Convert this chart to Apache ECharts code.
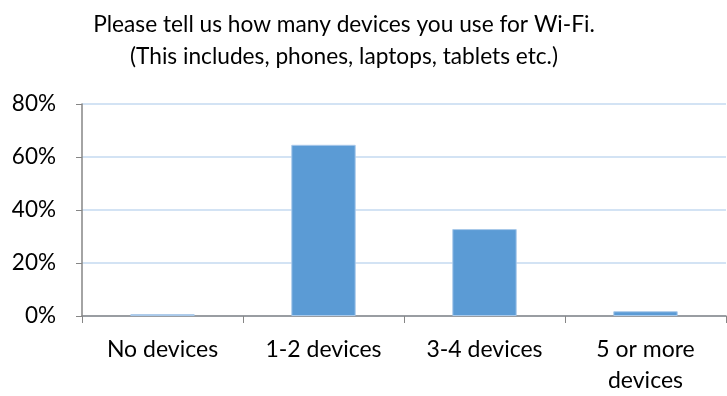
<!DOCTYPE html>
<html>
<head>
<meta charset="utf-8">
<script src="https://cdn.jsdelivr.net/npm/echarts@6/dist/echarts.min.js"></script>
<style>
  html, body { margin: 0; padding: 0; background: #fff; }
  #chart { width: 727px; height: 396px; }
</style>
</head>
<body>
<div id="chart"></div>
<script>
var categories = ['No devices', '1-2 devices', '3-4 devices', '5 or more\ndevices'];
var shares = [0.7, 64.6, 32.8, 1.8];
var yTicks = [0, 20, 40, 60, 80];

var chartDom = document.getElementById('chart');
var myChart = echarts.init(chartDom);
var option;

option = {
  animation: false,
  textStyle: { fontFamily: 'Lato' },
  title: {
    text: 'Please tell us how many devices you use for Wi-Fi.\n(This includes, phones, laptops, tablets etc.)',
    left: 339,
    top: 4,
    textAlign: 'center',
    textStyle: {
      fontFamily: 'Lato',
      fontSize: 22.7,
      fontWeight: 'normal',
      color: '#000',
      lineHeight: 32
    }
  },
  grid: {
    left: 82,
    right: 1,
    top: 104,
    bottom: 78
  },
  xAxis: {
    type: 'category',
    data: categories,
    axisLine: { lineStyle: { color: '#868686', width: 1.5 } },
    axisTick: { show: true, length: 7, lineStyle: { color: '#868686' } },
    axisLabel: {
      color: '#000',
      fontSize: 23,
      lineHeight: 31,
      margin: 18,
      interval: 0
    }
  },
  yAxis: {
    type: 'value',
    min: yTicks[0],
    max: yTicks[yTicks.length - 1],
    interval: 20,
    axisLine: { show: true, lineStyle: { color: '#868686', width: 1.5 } },
    axisTick: { show: true, length: 6, lineStyle: { color: '#868686' } },
    axisLabel: {
      color: '#000',
      fontSize: 22.5,
      margin: 26,
      formatter: '{value}%'
    },
    splitLine: { lineStyle: { color: '#C5DAF1', width: 1.5 } }
  },
  series: [
    {
      type: 'bar',
      data: shares,
      barWidth: '40%',
      itemStyle: {
        color: '#5B9BD5',
        borderColor: '#A9C9EA',
        borderWidth: 1
      }
    }
  ]
};

option && myChart.setOption(option);
</script>
</body>
</html>
